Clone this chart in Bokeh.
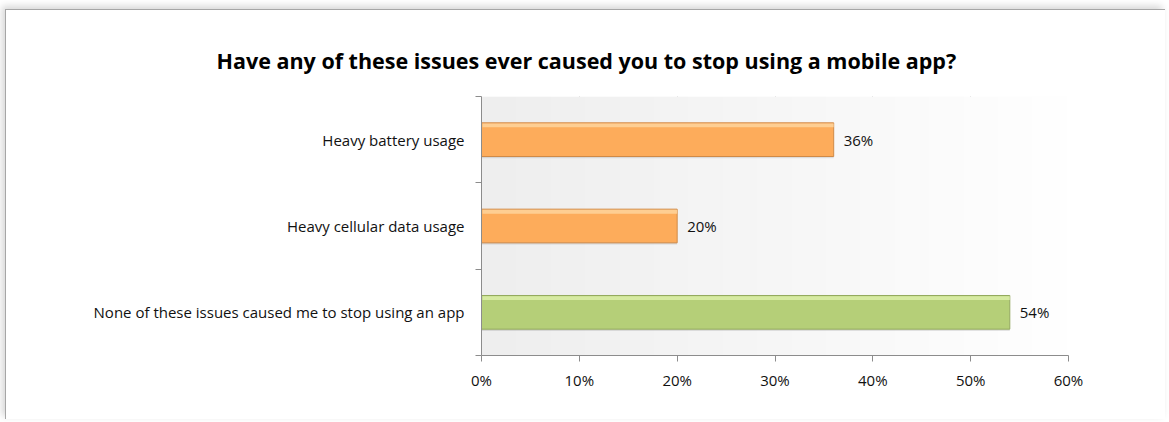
import numpy as np
from bokeh.plotting import figure
from bokeh.models import (ColumnDataSource, LabelSet, Title, FixedTicker,
                          NumeralTickFormatter, Range1d)
from bokeh.core.properties import value
from bokeh.embed import file_html
from bokeh.resources import INLINE

# ---- data (bottom to top) ----
categories = ["None of these issues caused me to stop using an app",
              "Heavy cellular data usage",
              "Heavy battery usage"]
values = [0.54, 0.20, 0.36]
value_labels = ["54%", "20%", "36%"]
bar_colors = ["#b5cf78", "#fdac5b", "#fdac5b"]
highlight_colors = ["#dcefa8", "#fed49c", "#fed49c"]
edge_colors = ["#93a95e", "#cf8a48", "#cf8a48"]
x_ticks = [0, 0.1, 0.2, 0.3, 0.4, 0.5, 0.6]
title_text = "Have any of these issues ever caused you to stop using a mobile app?"

FONT = "Open Sans"
W, H = 1160, 410
LEFT, RIGHT, TOP, BOTTOM = 475, 98, 86, 65

ypos = [i + 0.5 for i in range(len(categories))]
x0, x1 = x_ticks[0], x_ticks[-1]

p = figure(width=W, height=H, output_backend="svg", toolbar_location=None,
           x_range=Range1d(x0, x1), y_range=Range1d(0, len(categories)),
           min_border_left=LEFT, min_border_right=RIGHT,
           min_border_top=TOP, min_border_bottom=BOTTOM)
p.styles = {"border-top": "1px solid #a6a6a6", "border-left": "1px solid #a6a6a6",
            "margin-left": "5px", "margin-top": "9px",
            "box-shadow": "-3px -3px 7px rgba(0,0,0,0.16)"}
p.outline_line_color = None
p.background_fill_color = "white"
p.border_fill_color = "white"

p.add_layout(Title(text=title_text, align="left", offset=-265, standoff=43,
                   text_font=FONT, text_font_size="21.5px",
                   text_font_style="bold", text_color="#000000"), "above")

# background gradient of plot area (light grey -> white)
n = 256
g = np.linspace(0xEE, 0xFF, n).astype(np.uint32)
img = np.zeros((2, n), dtype=np.uint32)
view = img.view(dtype=np.uint8).reshape((2, n, 4))
view[:, :, 0] = g
view[:, :, 1] = g
view[:, :, 2] = g
view[:, :, 3] = 255
p.image_rgba(image=[img], x=x0, y=0, dw=x1 - x0, dh=len(categories))

src = ColumnDataSource(dict(y=ypos, v=values, lab=value_labels, c=bar_colors,
                            hc=highlight_colors, ec=edge_colors,
                            yh=[y + 0.165 for y in ypos],
                            ys=[y - 0.19 for y in ypos]))

# bar shadow
p.hbar(y="ys", left=0, right="v", height=0.05, source=src,
       fill_color="#000000", fill_alpha=0.10, line_color=None)
p.hbar(y="y", left=0, right="v", height=0.39, source=src,
       fill_color="c", line_color="ec", line_width=1)
p.hbar(y="yh", left=0.001, right="v", height=0.045, source=src,
       fill_color="hc", fill_alpha=0.85, line_color=None)

p.add_layout(LabelSet(x="v", y="y", text="lab", source=src, x_offset=10,
                      text_baseline="middle", text_font=value(FONT),
                      text_font_size=value("15px"), text_color="#111111"))

# grid
p.xgrid.ticker = FixedTicker(ticks=x_ticks)
p.xgrid.grid_line_color = "#8c8c8c"
p.xgrid.grid_line_width = 1
p.ygrid.grid_line_color = None

# x axis
xa = p.xaxis[0]
xa.ticker = FixedTicker(ticks=x_ticks)
xa.formatter = NumeralTickFormatter(format="0%")
xa.axis_line_color = "#8c8c8c"
xa.major_tick_line_color = "#8c8c8c"
xa.major_tick_out = 6
xa.major_tick_in = 0
xa.minor_tick_line_color = None
xa.major_label_text_font = FONT
xa.major_label_text_font_size = "15px"
xa.major_label_text_color = "#111111"
xa.major_label_standoff = 8

# y axis
ya = p.yaxis[0]
ya.ticker = FixedTicker(ticks=ypos, minor_ticks=list(range(len(categories) + 1)))
ya.major_label_overrides = {y: c for y, c in zip(ypos, categories)}
ya.axis_line_color = "#8c8c8c"
ya.major_tick_line_color = None
ya.major_tick_out = 0
ya.major_tick_in = 0
ya.minor_tick_line_color = "#8c8c8c"
ya.minor_tick_out = 6
ya.minor_tick_in = 0
ya.major_label_text_font = FONT
ya.major_label_text_font_size = "15px"
ya.major_label_text_color = "#111111"
ya.major_label_standoff = 11

open("out.html", "w").write(file_html(p, INLINE))
